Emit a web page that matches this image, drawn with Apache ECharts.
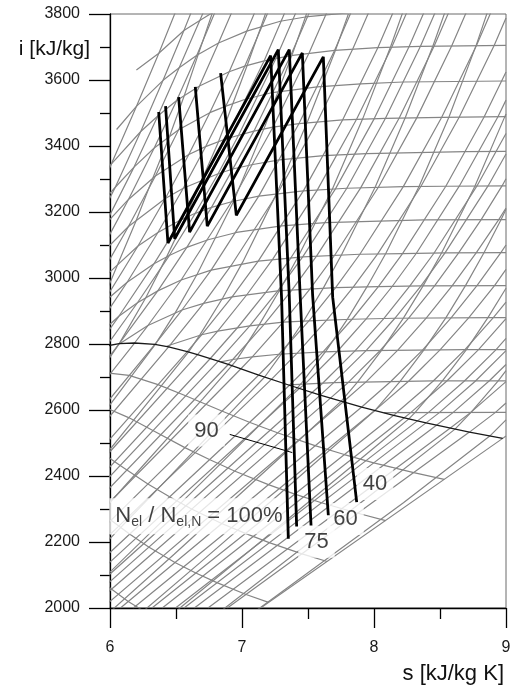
<!DOCTYPE html>
<html>
<head>
<meta charset="utf-8">
<script src="https://cdn.jsdelivr.net/npm/echarts/dist/echarts.min.js"></script>
<style>
  html, body { margin: 0; padding: 0; background: #fff; }
  #chart { width: 514px; height: 687px; }
</style>
</head>
<body>
<div id="chart"></div>
<script>
// turbine expansion lines, [s, i] points
const load100 = [[6.369, 3503], [6.439, 3106], [7.217, 3674], [7.300, 2938], [7.351, 2210]]
const load90 = [[6.421, 3521], [6.490, 3119], [7.275, 3692], [7.358, 2947], [7.414, 2247]]
const load75 = [[6.520, 3548], [6.603, 3139], [7.358, 3692], [7.440, 2953], [7.523, 2250]]
const load60 = [[6.646, 3579], [6.737, 3157], [7.457, 3682], [7.535, 2948], [7.654, 2281]]
const load40 = [[6.838, 3621], [6.957, 3190], [7.616, 3670], [7.687, 2942], [7.869, 2321]]
const loadLines = [load100, load90, load75, load60, load40]

// saturated vapour line
const saturation = [[5.973, 2794], [6.070, 2801], [6.186, 2803], [6.340, 2799], [6.444, 2791],
  [6.585, 2777], [6.663, 2768], [6.760, 2756], [6.896, 2738], [7.127, 2706], [7.359, 2675],
  [7.593, 2645], [7.907, 2609], [8.149, 2584], [8.394, 2561], [8.723, 2533], [8.975, 2514]]

// isobars, low pressure (0.01 ... 0.08 bar)
const isobarsLow = [
  [[7.141, 2000], [8.975, 2514], [9.0, 2521]],
  [[6.889, 2000], [8.723, 2533], [8.918, 2592], [9.0, 2621]],
  [[6.742, 2000], [8.576, 2545], [8.731, 2592], [9.0, 2686]],
  [[6.639, 2000], [8.473, 2554], [8.598, 2592], [8.872, 2688], [9.0, 2738]],
  [[6.561, 2000], [8.394, 2561], [8.495, 2592], [8.769, 2688], [9.0, 2780]],
  [[6.496, 2000], [8.329, 2567], [8.411, 2592], [8.685, 2688], [8.925, 2783], [9.0, 2817]],
  [[6.396, 2000], [8.227, 2576], [8.278, 2592], [8.552, 2688], [8.792, 2783], [9.0, 2877]]
]

// isobars, 0.1 ... 0.8 bar
const isobarsMid = [
  [[6.318, 2000], [8.149, 2584], [8.175, 2593], [8.449, 2688], [8.689, 2783], [8.904, 2880], [9.0, 2927]],
  [[6.177, 2000], [8.008, 2599], [8.262, 2687], [8.502, 2783], [8.717, 2879], [8.913, 2977], [9.0, 3026]],
  [[6.079, 2000], [7.907, 2609], [8.129, 2687], [8.369, 2782], [8.584, 2879], [8.780, 2977], [8.961, 3077], [9.0, 3100]],
  [[5.942, 2000], [7.768, 2625], [7.942, 2686], [8.182, 2782], [8.397, 2879], [8.593, 2977], [8.774, 3076], [8.945, 3177], [9.0, 3212]],
  [[5.848, 2000], [7.670, 2636], [7.809, 2685], [8.049, 2781], [8.264, 2879], [8.460, 2977], [8.641, 3076], [8.812, 3177], [8.970, 3279], [9.0, 3301]],
  [[5.774, 2000], [7.593, 2645], [7.695, 2683], [7.940, 2780], [8.158, 2878], [8.356, 2976], [8.538, 3076], [8.864, 3279], [9.0, 3376]],
  [[5.713, 2000], [7.531, 2653], [7.611, 2681], [7.856, 2779], [8.074, 2877], [8.272, 2976], [8.454, 3075], [8.780, 3279], [9.0, 3438]],
  [[5.621, 2000], [7.434, 2665], [7.478, 2679], [7.723, 2778], [7.941, 2876], [8.139, 2975], [8.321, 3075], [8.647, 3279], [8.938, 3488], [9.0, 3539]]
]

// isobars, 1 ... 10 bar
const isobarsHigh = [
  [[5.548, 2000], [7.359, 2675], [7.614, 2776], [7.834, 2875], [8.033, 2974], [8.216, 3074], [8.544, 3278], [8.834, 3488], [9.0, 3624]],
  [[5.421, 2000], [7.223, 2693], [7.420, 2773], [7.643, 2873], [7.844, 2973], [8.028, 3073], [8.356, 3278], [8.646, 3488], [8.911, 3705], [9.0, 3788]],
  [[5.332, 2000], [7.127, 2706], [7.280, 2769], [7.507, 2870], [7.709, 2971], [7.893, 3072], [8.222, 3277], [8.513, 3487], [8.777, 3705], [9.020, 3929]],
  [[5.209, 2000], [6.992, 2725], [7.078, 2761], [7.312, 2866], [7.517, 2968], [7.702, 3069], [8.033, 3275], [8.325, 3486], [8.589, 3704], [8.833, 3928]],
  [[5.125, 2000], [6.896, 2738], [6.930, 2753], [7.171, 2861], [7.379, 2964], [7.566, 3067], [7.899, 3273], [8.191, 3485], [8.456, 3703], [8.699, 3928]],
  [[5.061, 2000], [6.821, 2748], [7.059, 2855], [7.271, 2961], [7.460, 3064], [7.794, 3272], [8.087, 3484], [8.352, 3702], [8.596, 3927]],
  [[5.010, 2000], [6.760, 2756], [6.967, 2850], [7.182, 2957], [7.372, 3062], [7.708, 3270], [8.002, 3483], [8.267, 3702], [8.511, 3927]],
  [[4.932, 2000], [6.663, 2768], [6.816, 2839], [7.038, 2950], [7.233, 3057], [7.571, 3267], [7.868, 3481], [8.135, 3700], [8.380, 3926]],
  [[4.870, 2000], [6.585, 2777], [6.694, 2828], [6.925, 2943], [7.123, 3051], [7.465, 3264], [7.762, 3479], [8.029, 3698], [8.273, 3923]]
]

// isobars, 15 ... 400 bar
const isobarsTop = [
  [[4.766, 2000], [6.444, 2791], [6.455, 2797], [6.709, 2923], [6.918, 3038], [7.269, 3256], [7.570, 3473], [7.839, 3694], [8.085, 3920]],
  [[4.695, 2000], [6.340, 2799], [6.545, 2903], [6.766, 3024], [7.127, 3248], [7.432, 3468], [7.702, 3690], [7.947, 3917]],
  [[4.602, 2000], [6.186, 2803], [6.287, 2856], [6.539, 2994], [6.921, 3231], [7.234, 3457], [7.508, 3682], [7.760, 3912]],
  [[4.540, 2000], [6.070, 2801], [6.362, 2961], [6.582, 3093], [6.769, 3214], [7.090, 3445], [7.369, 3674], [7.620, 3906]],
  [[5.973, 2794], [6.208, 2925], [6.449, 3068], [6.646, 3196], [6.819, 3316], [6.976, 3434], [7.259, 3667], [7.512, 3900]],
  [[5.890, 2784], [6.067, 2884], [6.333, 3043], [6.541, 3177], [6.880, 3422], [7.168, 3658], [7.420, 3894]],
  [[5.791, 2785], [6.130, 2987], [6.363, 3138], [6.555, 3272], [6.724, 3398], [6.878, 3521], [7.021, 3642], [7.280, 3882]],
  [[5.944, 2923], [6.212, 3097], [6.419, 3241], [6.597, 3374], [6.756, 3501], [6.903, 3625], [7.036, 3748], [7.166, 3870]],
  [[5.882, 2975], [6.140, 3156], [6.344, 3309], [6.520, 3449], [6.678, 3582], [6.822, 3712], [6.960, 3840]],
  [[5.902, 3060], [6.140, 3238], [6.335, 3394], [6.505, 3538], [6.658, 3675], [6.800, 3810]],
  [[5.962, 3162], [6.182, 3336], [6.362, 3491], [6.524, 3637], [6.680, 3780], [6.820, 3910]],
  [[5.794, 3081], [6.040, 3275], [6.233, 3444], [6.402, 3599], [6.560, 3750], [6.700, 3890]],
  [[5.470, 2903], [5.800, 3150], [6.011, 3346], [6.200, 3520], [6.370, 3681], [6.520, 3830]]
]

// isochores v = 100 ... 0.02 m3/kg
const isochores = [
  [[6.971, 1952], [8.223, 2319], [8.877, 2521], [9.0, 2570]],
  [[6.574, 1908], [7.992, 2348], [8.614, 2542], [8.733, 2592], [8.941, 2688], [9.0, 2719]],
  [[6.094, 1857], [7.099, 2187], [8.074, 2510], [8.264, 2573], [8.310, 2592], [8.518, 2688], [8.700, 2783], [8.863, 2880], [9.0, 2969]],
  [[5.762, 1823], [6.678, 2136], [7.380, 2379], [8.008, 2599], [8.198, 2687], [8.380, 2783], [8.544, 2879], [8.693, 2977], [8.832, 3076], [8.963, 3177], [9.0, 3208]],
  [[5.457, 1793], [6.486, 2163], [7.469, 2522], [7.752, 2627], [7.878, 2686], [8.060, 2782], [8.224, 2879], [8.373, 2977], [8.512, 3076], [8.765, 3279], [8.991, 3489], [9.0, 3497]],
  [[5.820, 2039], [6.511, 2308], [7.174, 2570], [7.419, 2667], [7.456, 2684], [7.637, 2779], [7.801, 2877], [7.951, 2976], [8.090, 3075], [8.342, 3278], [8.568, 3488], [8.774, 3705], [8.868, 3816]],
  [[5.517, 2010], [6.430, 2389], [7.010, 2633], [7.172, 2700], [7.300, 2771], [7.466, 2869], [7.617, 2970], [7.756, 3072], [8.011, 3277], [8.238, 3487], [8.447, 3704], [8.546, 3815]],
  [[5.397, 2054], [6.061, 2347], [6.701, 2633], [6.922, 2734], [6.960, 2752], [7.130, 2858], [7.285, 2963], [7.427, 3066], [7.685, 3270], [7.915, 3483], [8.125, 3700], [8.225, 3813]],
  [[5.449, 2212], [5.887, 2425], [6.306, 2632], [6.596, 2776], [6.680, 2827], [6.855, 2940], [7.005, 3048], [7.268, 3261], [7.498, 3476], [7.708, 3690], [7.806, 3800]],
  [[5.626, 2422], [6.002, 2617], [6.343, 2799], [6.495, 2895], [6.661, 3012], [6.936, 3232], [7.172, 3458], [7.383, 3680], [7.480, 3790], [7.576, 3905]],
  [[5.704, 2585], [6.070, 2801], [6.271, 2940], [6.429, 3064], [6.571, 3183], [6.822, 3413], [7.039, 3644], [7.140, 3757], [7.235, 3868]],
  [[5.890, 2880], [6.058, 3041], [6.197, 3173], [6.324, 3302], [6.450, 3428], [6.563, 3553], [6.668, 3677], [6.776, 3804]]
]

// isotherms 50 ... 700 °C
const isotherms = [
  [[8.075, 2592], [9.0, 2593]],
  [[7.355, 2676], [7.695, 2683], [8.449, 2688], [9.0, 2688]],
  [[6.838, 2746], [6.930, 2753], [7.078, 2761], [7.280, 2769], [7.614, 2776], [7.940, 2780], [8.689, 2783], [9.0, 2783]],
  [[6.431, 2793], [6.455, 2797], [6.694, 2828], [6.816, 2839], [7.059, 2855], [7.312, 2866], [7.507, 2870], [7.834, 2875], [8.158, 2878], [8.904, 2880], [9.0, 2880]],
  [[6.073, 2801], [6.287, 2856], [6.545, 2903], [6.709, 2923], [6.925, 2943], [7.271, 2961], [7.709, 2971], [8.033, 2974], [8.356, 2976], [9.0, 2977]],
  [[5.791, 2785], [6.067, 2884], [6.208, 2925], [6.362, 2961], [6.539, 2994], [6.766, 3024], [7.123, 3051], [7.460, 3064], [7.893, 3072], [8.216, 3074], [8.538, 3076], [9.0, 3077]],
  [[5.944, 2923], [6.130, 2987], [6.333, 3043], [6.449, 3068], [6.582, 3093], [6.743, 3116], [6.958, 3138], [7.301, 3158], [7.633, 3168], [8.379, 3176], [9.0, 3177]],
  [[5.882, 2975], [6.212, 3097], [6.363, 3138], [6.541, 3177], [6.646, 3196], [6.769, 3214], [6.921, 3231], [7.127, 3248], [7.465, 3264], [7.794, 3272], [8.222, 3277], [8.544, 3278], [9.0, 3279]],
  [[5.902, 3060], [6.140, 3156], [6.419, 3241], [6.555, 3272], [6.819, 3316], [6.937, 3331], [7.082, 3344], [7.283, 3358], [7.618, 3371], [7.944, 3377], [8.690, 3383], [9.0, 3384]],
  [[5.962, 3162], [6.140, 3238], [6.344, 3309], [6.597, 3374], [6.724, 3398], [6.880, 3422], [7.090, 3445], [7.234, 3457], [7.432, 3468], [7.762, 3479], [8.087, 3484], [8.513, 3487], [9.0, 3489]],
  [[5.780, 3156], [6.040, 3275], [6.182, 3336], [6.335, 3394], [6.520, 3449], [6.756, 3501], [6.878, 3521], [7.020, 3541], [7.230, 3562], [7.570, 3579], [7.900, 3588], [8.220, 3594], [9.0, 3597]],
  [[5.900, 3285], [6.011, 3346], [6.233, 3444], [6.362, 3491], [6.505, 3538], [6.678, 3582], [6.903, 3625], [7.021, 3642], [7.168, 3658], [7.369, 3674], [7.702, 3690], [8.029, 3698], [8.352, 3702], [9.0, 3705]],
  [[6.050, 3450], [6.200, 3520], [6.402, 3599], [6.524, 3637], [6.658, 3675], [6.822, 3712], [7.036, 3748], [7.290, 3778], [7.480, 3791], [7.820, 3804]],
  [[6.200, 3630], [6.370, 3681], [6.560, 3750], [6.680, 3780], [6.800, 3810]]
]

// constant dryness lines x = 0.95 ... 0.75
const qualityLines = [
  [[5.906, 2716], [6.145, 2705], [6.364, 2677], [6.573, 2643], [6.847, 2597], [7.056, 2563], [7.268, 2531], [7.553, 2492], [7.775, 2465], [7.998, 2440], [8.301, 2410], [8.532, 2390]],
  [[5.951, 2610], [6.141, 2577], [6.325, 2538], [6.567, 2486], [6.753, 2450], [6.943, 2415], [7.200, 2374], [7.400, 2345], [7.602, 2319], [7.878, 2287], [8.088, 2265]],
  [[5.919, 2476], [6.077, 2432], [6.287, 2376], [6.451, 2337], [6.618, 2300], [6.846, 2256], [7.025, 2226], [7.206, 2198], [7.455, 2164], [7.645, 2141]],
  [[6.008, 2266], [6.148, 2224], [6.293, 2185], [6.492, 2138], [6.650, 2106], [6.810, 2077], [7.031, 2041], [7.201, 2017]],
  [[5.968, 2070], [6.138, 2020], [6.275, 1986]]
]

// labels and their places on the chart
const noteText = ['90', '{n|N}{s|el}{n| / N}{s|el,N}{n| = 100%}', '75', '60', '40']
const notePos = [[6.731, 2538], [6.674, 2278], [7.564, 2201], [7.784, 2270], [8.008, 2376]]
const leader90 = [[6.907, 2526], [7.381, 2471]]

const FONT = '"Liberation Sans", Arial, sans-serif'

function grayLine(points) {
  return {
    type: 'line',
    data: points,
    symbol: 'none',
    silent: true,
    z: 1,
    lineStyle: { color: '#858585', width: 1.2 }
  }
}

const series = []
;[].concat(isobarsLow, isobarsMid, isobarsHigh, isobarsTop, isochores, isotherms, qualityLines)
  .forEach(p => series.push(grayLine(p)))

series.push({
  type: 'line',
  data: saturation,
  symbol: 'none',
  z: 2,
  lineStyle: { color: '#1a1a1a', width: 1.3 }
})

series.push({
  type: 'scatter',
  data: notePos.map((p, i) => ({ value: p, name: noteText[i] })),
  symbolSize: 1,
  itemStyle: { color: 'rgba(0,0,0,0)' },
  z: 3,
  label: {
    show: true,
    position: 'inside',
    formatter: p => p.name,
    fontFamily: FONT,
    fontSize: 22,
    color: '#111',
    backgroundColor: '#fff',
    padding: [5, 6],
    rich: {
      n: { fontFamily: FONT, fontSize: 22, color: '#111', lineHeight: 26 },
      s: { fontFamily: FONT, fontSize: 14, color: '#111', verticalAlign: 'bottom', lineHeight: 20 }
    }
  }
})

series.push({
  type: 'line',
  data: leader90,
  symbol: 'none',
  z: 4,
  lineStyle: { color: '#000', width: 1 }
})

loadLines.forEach(p => {
  series.push({
    type: 'line',
    data: p,
    symbol: 'none',
    z: 5,
    lineStyle: { color: '#000', width: 2.8 }
  })
})

const chart = echarts.init(document.getElementById('chart'))
const tickStyle = { color: '#000', width: 1.3 }
chart.setOption({
  animation: false,
  grid: { left: 110, right: 8, top: 14, bottom: 79, show: true, borderColor: '#6a6a6a', borderWidth: 1 },
  xAxis: {
    type: 'value', min: 6, max: 9, interval: 1,
    axisLine: { show: true, onZero: false, lineStyle: tickStyle },
    axisTick: { show: true, length: 20, lineStyle: tickStyle },
    minorTick: { show: true, splitNumber: 2, length: 11, lineStyle: tickStyle },
    splitLine: { show: false },
    axisLabel: { margin: 32, fontFamily: FONT, fontSize: 16, color: '#1a1a1a' }
  },
  yAxis: {
    type: 'value', min: 2000, max: 3800, interval: 200,
    axisLine: { show: true, onZero: false, lineStyle: tickStyle },
    axisTick: { show: true, length: 21, lineStyle: tickStyle },
    minorTick: { show: true, splitNumber: 2, length: 10, lineStyle: tickStyle },
    splitLine: { show: false },
    axisLabel: { margin: 30, fontFamily: FONT, fontSize: 16, color: '#1a1a1a', formatter: v => String(v) }
  },
  series: series
})

// axis titles
const yTitle = chart.convertToPixel({ gridIndex: 0 }, [6, 3700])
const xTitle = chart.convertToPixel({ gridIndex: 0 }, [9, 2000])
chart.setOption({
  graphic: [
    { type: 'text', x: yTitle[0] - 20, y: yTitle[1] + 2,
      style: { text: 'i [kJ/kg]', font: '21px ' + FONT, fill: '#111', align: 'right', verticalAlign: 'middle' } },
    { type: 'text', x: xTitle[0] - 2, y: xTitle[1] + 66,
      style: { text: 's [kJ/kg K]', font: '22px ' + FONT, fill: '#111', align: 'right', verticalAlign: 'middle' } }
  ]
})
</script>
</body>
</html>
